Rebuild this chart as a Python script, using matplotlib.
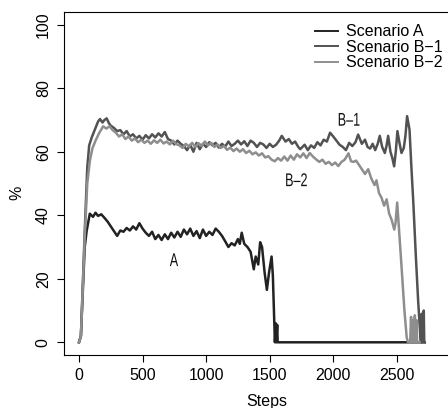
import matplotlib
matplotlib.use("Agg")
import matplotlib.pyplot as plt
from matplotlib.textpath import TextPath
from matplotlib.patches import PathPatch
from matplotlib.font_manager import FontProperties
from matplotlib.transforms import Affine2D, ScaledTranslation

plt.rcParams['font.family'] = ['Liberation Sans', 'DejaVu Sans']

# Scenario A
a_steps = [0, 15, 45, 60, 85, 110, 130, 150, 175, 200, 225, 250, 275, 300, 325, 350, 375, 400, 425, 450,
           475, 500, 525, 550, 575, 600, 625, 650, 675, 700, 725, 750, 775, 800, 825, 850, 875, 900, 925, 950,
           975, 1000, 1025, 1050, 1075, 1100, 1125, 1150, 1175, 1200, 1225, 1250, 1265, 1280, 1300, 1325, 1350,
           1375, 1390, 1410, 1425, 1440, 1460, 1478, 1495, 1515, 1525, 1535, 1541, 1548, 1552, 1559, 1563, 2720]
a_vals = [0, 2, 30, 35, 40.5, 39.5, 40.8, 39.8, 40.3, 39.2, 38, 36.5, 35, 33.5, 35.2, 34.8, 36, 35.2, 36.5, 35.5,
          37.5, 35.8, 34.5, 33.5, 34.8, 32.5, 33.8, 32.2, 34, 32.5, 34.5, 33, 34.8, 33.2, 35.5, 34, 35.8, 33.5, 35, 32.8,
          35.5, 33.5, 34.8, 33.8, 35.8, 34.8, 33.5, 31.8, 30, 31.2, 30.5, 32.5, 31, 34.5, 31, 30, 28.5,
          23, 27, 24.5, 31.5, 30, 22, 16.5, 22, 27, 21, 8, 0, 6, 0, 5.5, 0, 0]

# Scenario B-1
b1_steps = [0, 15, 45, 65, 80, 100, 125, 150, 165, 185, 200, 218, 235, 250, 275, 300, 325, 350, 375, 400,
            425, 450, 475, 500, 525, 550, 575, 600, 625, 650, 675, 700, 725, 750, 775, 800, 825, 850, 875, 900,
            925, 950, 975, 1000, 1025, 1050, 1075, 1100, 1125, 1150, 1175, 1200, 1225, 1250, 1275, 1300, 1325, 1350,
            1375, 1400, 1425, 1450, 1475, 1500, 1525, 1550, 1575, 1595, 1625, 1650, 1675, 1700, 1725, 1740, 1775,
            1800, 1825, 1850, 1875, 1900, 1925, 1950, 1975, 2000, 2025, 2050, 2075, 2100, 2125, 2150, 2175, 2196,
            2225, 2250, 2270, 2290, 2310, 2330, 2350, 2366, 2385, 2406, 2420, 2432, 2450, 2465, 2479, 2492, 2505,
            2520, 2537, 2555, 2568, 2581, 2600, 2615, 2630, 2650, 2668, 2685, 2690, 2697, 2700, 2712, 2716, 2720]
b1_vals = [0, 2, 35, 55, 62, 64.5, 67, 69.5, 70.3, 69.2, 70, 70.5, 69, 68.2, 67.5, 66.5, 66.8, 65.5, 66.5, 64.8,
           65.5, 64.2, 65, 63.8, 65.2, 64.2, 65.5, 64.5, 65.8, 64.8, 66.2, 64, 63.5, 62.3, 63.5, 62.5, 61.8, 60.5, 62.2, 60,
           62.8, 60.8, 62.5, 61.5, 63, 62, 62.8, 61.3, 62.5, 61.6, 63.2, 61.8, 62.5, 63.5, 62.3, 63.3, 61.8, 63.5,
           62.8, 61.5, 62.8, 62.3, 61.2, 62.5, 61.5, 62.2, 63.5, 65, 63.2, 64, 62.5, 63.2, 61.5, 60.8, 62.2,
           60.5, 62, 61.2, 63, 62, 63.8, 63.2, 66, 64.8, 63.5, 62.2, 61.5, 60.5, 62.8, 61.8, 63, 65.4,
           62.5, 63.8, 61.5, 61, 62.5, 60.5, 62.5, 65, 61.5, 59.6, 62, 65, 60, 58, 55.4, 60, 66.5,
           63, 59.6, 61.2, 65, 71.2, 67, 55, 44, 27, 13, 2, 0, 9, 0, 10, 0, 0]

# Scenario B-2
b2_steps = [0, 15, 45, 65, 85, 105, 130, 160, 190, 215, 240, 265, 290, 315, 340, 365, 390, 415, 440, 465,
            490, 515, 540, 565, 590, 615, 640, 665, 690, 715, 740, 765, 790, 815, 840, 865, 890, 915, 940, 965,
            990, 1015, 1040, 1065, 1090, 1115, 1140, 1165, 1190, 1215, 1240, 1265, 1290, 1315, 1340, 1365, 1390,
            1415, 1440, 1465, 1490, 1515, 1540, 1565, 1590, 1615, 1640, 1665, 1690, 1715, 1740, 1765, 1790, 1815,
            1840, 1865, 1890, 1915, 1940, 1965, 1990, 2015, 2040, 2065, 2090, 2120, 2140, 2160, 2180, 2200, 2225,
            2250, 2275, 2300, 2325, 2340, 2360, 2380, 2400, 2420, 2440, 2460, 2480, 2490, 2503, 2515, 2537, 2560,
            2578, 2588, 2605, 2612, 2618, 2630, 2635, 2642, 2648, 2655, 2660, 2680]
b2_vals = [0, 2, 33, 50, 57, 61, 63.5, 66, 68, 67.3, 68, 66.8, 66, 64.8, 65.5, 64, 64.8, 63.5, 64.2, 63,
           63.8, 62.8, 63.5, 62.5, 63.6, 62.8, 63.8, 62.6, 63.2, 62.3, 63.5, 62.4, 62, 61.2, 62.5, 61.6, 62.8, 61.5, 62.7, 61.8,
           63.2, 62, 62.8, 61.5, 62.3, 61.2, 61.8, 60.6, 61.3, 60.2, 61, 60, 60.8, 59.6, 60.3, 59.2, 59.8,
           58.8, 59.5, 58.2, 58.6, 57.5, 57, 58, 57.2, 58.5, 57.2, 58.8, 57.5, 59.2, 58.2, 59.5, 58, 59.6,
           58.5, 57.6, 56.8, 57.5, 56.2, 56.8, 55.8, 56.6, 55.5, 56.8, 57.5, 59.5, 57, 56.8, 57.2, 56, 54.5,
           53, 54.5, 51.5, 49.5, 51, 47, 45.5, 43, 45, 40.5, 38.5, 35.5, 37.5, 44, 37, 24, 10,
           1.5, 0, 0, 8, 0, 7, 0, 8.5, 0, 7, 0, 0]

labels = ["Scenario A", "Scenario B\u22121", "Scenario B\u22122"]
colors = ["#222222", "#525252", "#8e8e8e"]

# curve annotations (step, value, text)
note_x = [747, 1711, 2125]
note_y = [26, 51.2, 70.2]
note_txt = ["A", "B\u20132", "B\u20131"]

fig = plt.figure(figsize=(4.48, 4.08), dpi=100)
ax = fig.add_axes([64 / 448, 53 / 408, 405 / 448, 343 / 408])

ax.plot(a_steps, a_vals, color=colors[0], lw=1.8, label=labels[0])
ax.plot(b1_steps, b1_vals, color=colors[1], lw=1.8, label=labels[1])
ax.plot(b2_steps, b2_vals, color=colors[2], lw=1.8, label=labels[2])

ax.set_xlim(-118, 3068)
ax.set_ylim(-4, 104)
ax.set_xticks([0, 500, 1000, 1500, 2000, 2500])
ax.set_yticks([0, 20, 40, 60, 80, 100])
ax.tick_params(direction='out', length=5, width=0.8, labelsize=11.5, pad=4)
ax.tick_params(axis='y', pad=4.5)
for lab in ax.get_yticklabels():
    lab.set_rotation(90)
    lab.set_va('center')
for s in ax.spines.values():
    s.set_linewidth(0.8)

ax.set_xlabel("Steps", fontsize=11.5, labelpad=8)
ax.set_ylabel("%", fontsize=11.5)
ax.yaxis.set_label_coords(-0.099, 0.472)

# narrow lettering for the curve labels: squeeze a text path horizontally
fp = FontProperties(family='Liberation Sans')
for x, y, s in zip(note_x, note_y, note_txt):
    tp = TextPath((0, 0), s, size=18.5, prop=fp)
    bb = tp.get_extents()
    tr = (Affine2D().translate(-(bb.x0 + bb.x1) / 2, -(bb.y0 + bb.y1) / 2).scale(0.68, 1.0)
          + ScaledTranslation(x, y, ax.transData))
    ax.add_patch(PathPatch(tp, transform=tr, facecolor='#111111', edgecolor='none'))

handles, _ = ax.get_legend_handles_labels()
leg = fig.legend(handles, labels, loc='upper left', bbox_to_anchor=(315 / 448, 1 - 24.5 / 408),
                 frameon=False, fontsize=11.5, handlelength=1.45, handletextpad=0.5,
                 labelspacing=0.02, borderpad=0, borderaxespad=0)
for line in leg.get_lines():
    line.set_linewidth(1.4)

fig.savefig("out.png", dpi=100)
